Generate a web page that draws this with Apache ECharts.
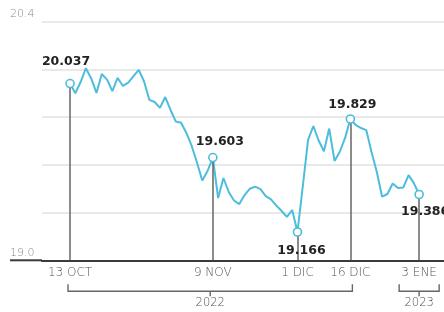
<!DOCTYPE html>
<html><head><meta charset="utf-8">
<script src="https://cdn.jsdelivr.net/npm/echarts@6/dist/echarts.min.js"></script>
<style>html,body{margin:0;padding:0;background:#fff}#c{width:444px;height:312px}</style>
</head><body><div id="c"></div>
<script>
// Exchange rate (MXN per USD), one value per session
const values = [
  20.037, 19.980, 20.046, 20.127, 20.067, 19.982, 20.093, 20.060, 19.993, 20.070,
  20.023, 20.043, 20.081, 20.117, 20.049, 19.941, 19.929, 19.894, 19.958, 19.882,
  19.814, 19.807, 19.747, 19.671, 19.574, 19.468, 19.524, 19.603, 19.365, 19.483,
  19.401, 19.351, 19.330, 19.383, 19.420, 19.432, 19.418, 19.377, 19.357, 19.321,
  19.289, 19.255, 19.295, 19.166, 19.433, 19.706, 19.788, 19.703, 19.640, 19.773,
  19.583, 19.637, 19.718, 19.829, 19.794, 19.776, 19.764, 19.635, 19.518, 19.373,
  19.389, 19.451, 19.424, 19.427, 19.500, 19.453, 19.386
];
// highlighted sessions (index into values) and their date labels
const markIdx = [0, 27, 43, 53, 66];
const markDates = ['13 OCT', '9 NOV', '1 DIC', '16 DIC', '3 ENE'];
// year groups: label, first and last highlighted index
const yearLabels = ['2022', '2023'];
const yearStart = [0, 66];
const yearEnd = [53, 66];
// y axis
const yMin = 19.0, yMax = 20.4, yStep = 0.28;
const yShown = [19.0, 20.4];

const LINE = '#4cbddb';
const labelStyle = [
  {position: 'top', offset: [-4, -6]},
  {position: 'top', offset: [7, 1]},
  {position: 'bottom', offset: [4, 2]},
  {position: 'top', offset: [2, 2]},
  {position: 'bottom', offset: [6, 1]}
];

const chart = echarts.init(document.getElementById('c'), null, {renderer: 'canvas'});
const GRID = {left: 42, right: 0, top: 21.7, bottom: 51.7};

chart.setOption({
  animation: false,
  backgroundColor: '#fff',
  grid: GRID,
  xAxis: {
    type: 'value', min: -5.3, max: 70.7,
    splitLine: {show: false},
    axisTick: {show: false},
    axisLine: {show: true, onZero: false, lineStyle: {color: '#3a3a3a', width: 2}},
    axisLabel: {
      customValues: markIdx,
      formatter: v => { const k = markIdx.indexOf(Math.round(v)); return k >= 0 ? markDates[k] : ''; },
      color: '#555', fontSize: 12, fontFamily: 'DejaVu Sans', fontWeight: 200, margin: 7
    }
  },
  yAxis: {
    type: 'value', min: yMin, max: yMax, interval: yStep,
    axisLine: {show: false}, axisTick: {show: false},
    splitLine: {lineStyle: {color: '#e2e2e2', width: 1.5}},
    axisLabel: {
      formatter: v => yShown.some(t => Math.abs(t - v) < 1e-6) ? v.toFixed(1) : '',
      align: 'left', verticalAlign: 'bottom', margin: 32, padding: [0, 0, 2, 0],
      color: '#888', fontSize: 11, fontFamily: 'DejaVu Sans', fontWeight: 200
    }
  },
  series: [
    {
      type: 'line', data: values.map((v, i) => [i, v]),
      symbol: 'none', z: 3,
      lineStyle: {color: LINE, width: 2},
      markLine: {
        silent: true, symbol: 'none', animation: false,
        label: {show: false},
        lineStyle: {color: '#666', width: 1.5, type: 'solid'},
        data: markIdx.map(i => [{coord: [i, values[i]]}, {coord: [i, yMin]}])
      }
    },
    {
      type: 'scatter', z: 5,
      data: markIdx.map((i, k) => ({
        value: [i, values[i]],
        label: Object.assign({show: true, formatter: values[i].toFixed(3)}, labelStyle[k])
      })),
      symbol: 'circle', symbolSize: 8,
      itemStyle: {color: '#fff', borderColor: LINE, borderWidth: 1.6, opacity: 1},
      label: {color: '#222', fontSize: 12.5, fontWeight: 'bold', fontFamily: 'DejaVu Sans', distance: 5}
    }
  ]
});

// decorations: baseline extension and year brackets, positioned from axis coordinates
function decorate() {
  const base = chart.convertToPixel({gridIndex: 0}, [0, yMin])[1];
  const g = [{
    type: 'line', shape: {x1: 10, y1: base, x2: GRID.left, y2: base},
    style: {stroke: '#3a3a3a', lineWidth: 2}, z: 10
  }];
  const by = base + 31, tickUp = 7, tickDown = 5;
  yearLabels.forEach((lab, k) => {
    const pad = yearStart[k] === yearEnd[k] ? 20 : 2;
    const x1 = chart.convertToPixel({gridIndex: 0}, [yearStart[k], yMin])[0] - pad;
    const x2 = chart.convertToPixel({gridIndex: 0}, [yearEnd[k], yMin])[0] + pad;
    const xm = (x1 + x2) / 2;
    const st = {stroke: '#666', lineWidth: 1.4, fill: null};
    g.push({type: 'polyline', shape: {points: [[x1, by - tickUp], [x1, by], [x2, by], [x2, by - tickUp]]}, style: st});
    g.push({type: 'line', shape: {x1: xm, y1: by, x2: xm, y2: by + tickDown}, style: st});
    g.push({type: 'text', x: xm, y: by + 6, style: {text: lab, fill: '#555', font: '200 11.5px "DejaVu Sans"', align: 'center', verticalAlign: 'top'}});
  });
  chart.setOption({graphic: g});
}
decorate();
</script>
</body></html>
